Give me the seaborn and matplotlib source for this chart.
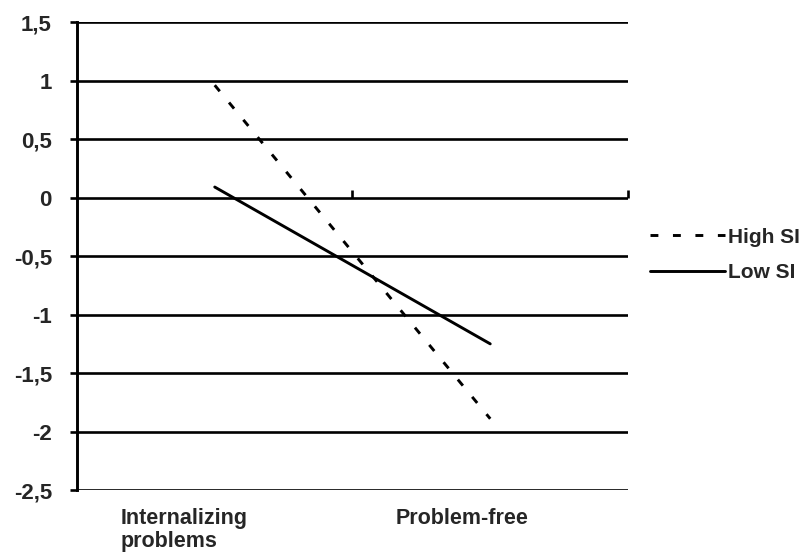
import pandas as pd
import seaborn as sns
import matplotlib.pyplot as plt
import matplotlib.transforms as mtransforms

# data
categories = ['Internalizing\nproblems', 'Problem-free']
high_si = [0.96, -1.89]
low_si = [0.09, -1.25]
y_ticks = [-2.5, -2, -1.5, -1, -0.5, 0, 0.5, 1, 1.5]
y_tick_labels = ['-2,5', '-2', '-1,5', '-1', '-0,5', '0', '0,5', '1', '1,5']

df = pd.DataFrame({
    'pos': [0, 1, 0, 1],
    'value': high_si + low_si,
    'group': ['High SI'] * 2 + ['Low SI'] * 2,
})

sns.set_style('white')
plt.rcParams['font.family'] = ['Liberation Sans', 'DejaVu Sans']
plt.rcParams['font.weight'] = 'bold'

fig = plt.figure(figsize=(8.12, 5.57), dpi=100)
ax = fig.add_axes([0.0948, 0.12, 0.6786, 0.8405])

# horizontal gridlines
for yv in y_ticks:
    ax.axhline(yv, color='black', lw=1.9, zorder=1)

sns.lineplot(
    data=df, x='pos', y='value', style='group',
    dashes={'High SI': (2.7, 5.0), 'Low SI': ''},
    color='black', lw=2.1, ax=ax, zorder=3,
)

ax.set_xlim(-0.5, 1.5)
ax.set_ylim(-2.5, 1.5)
ax.set_yticks(y_ticks)
ax.set_yticklabels(y_tick_labels, fontsize=16, fontweight='bold')
ax.set_xticks([0, 1])
ax.set_xticklabels(categories, fontsize=15.5, fontweight='bold', ha='left',
                   linespacing=1.1)
ax.tick_params(axis='x', length=0, pad=13)
ax.tick_params(axis='y', length=5, width=1.9, color='black', pad=13,
               direction='out', left=True)
ax.set_xlabel('')
ax.set_ylabel('')

for side in ['top', 'right', 'bottom']:
    ax.spines[side].set_visible(False)
ax.spines['left'].set_color('black')
ax.spines['left'].set_linewidth(2.1)

# category separators on the zero line
sec = ax.secondary_xaxis(0.625)
sec.set_xticks([0.5, 1.5])
sec.set_xticklabels(['', ''])
sec.tick_params(length=6, width=1.9, color='black', direction='out')
sec.spines['bottom'].set_visible(False)
sec.spines['top'].set_visible(False)

# shift x labels so they start left of the category centres
offset = mtransforms.ScaledTranslation(-68 / 72, 0, fig.dpi_scale_trans)
for lbl in ax.get_xticklabels():
    lbl.set_transform(lbl.get_transform() + offset)

leg = ax.legend(
    title=None, loc='center left', bbox_to_anchor=(650 / 812, 1 - 255 / 557),
    bbox_transform=fig.transFigure, borderpad=0, borderaxespad=0,
    frameon=False, handlelength=3.6, handletextpad=0.15,
    fontsize=15, labelspacing=0.8,
)
for t in leg.get_texts():
    t.set_fontweight('bold')

plt.savefig('out.png', dpi=100)
